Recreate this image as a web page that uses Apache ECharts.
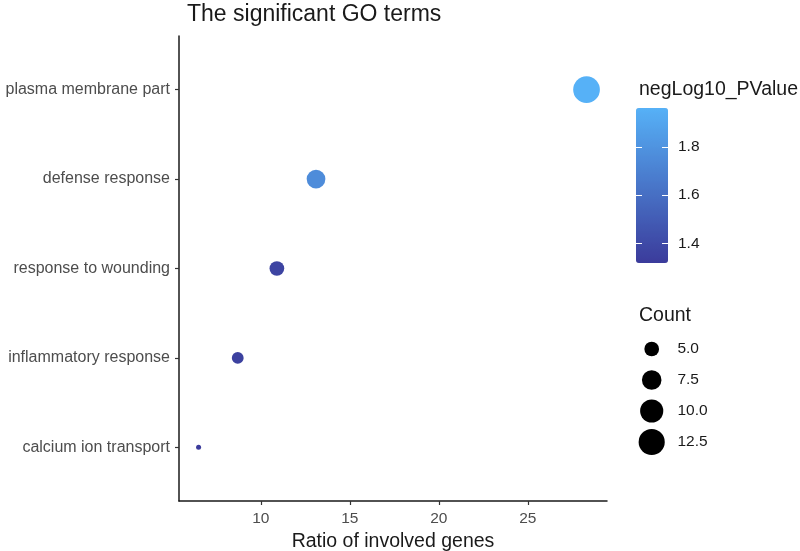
<!DOCTYPE html>
<html>
<head>
<meta charset="utf-8">
<script src="https://cdn.jsdelivr.net/npm/echarts@6/dist/echarts.min.js"></script>
<style>
html,body{margin:0;padding:0;background:#fff;}
#chart{width:800px;height:551px;}
</style>
</head>
<body>
<div id="chart"></div>
<script>
// ---- data (bottom to top) ----
var categories = ['calcium ion transport', 'inflammatory response', 'response to wounding', 'defense response', 'plasma membrane part'];
var ratio = [6.5, 8.7, 10.9, 13.1, 28.3];
var count = [3, 4, 5, 7, 13];
var negLog10 = [1.32, 1.35, 1.37, 1.76, 1.96];
var xTicks = [10, 15, 20, 25];
var colorTicks = [1.4, 1.6, 1.8];
var sizeBreaks = [5.0, 7.5, 10.0, 12.5];
var sizeLabels = ['5.0', '7.5', '10.0', '12.5'];

var FONT = '"Liberation Sans", Arial, Helvetica, sans-serif';
var countMin = 3, countMax = 13;
function sizeOf(c) {
  var t = Math.max(0, (c - countMin) / (countMax - countMin));
  return 5 + 21.7 * Math.sqrt(t);
}

var mainData = categories.map(function (c, i) {
  return [ratio[i], i + 1, count[i], negLog10[i]];
});
var legendData = sizeBreaks.map(function (b, i) {
  return [0.5, sizeLabels[i], b];
});

var chart = echarts.init(document.getElementById('chart'), null, {renderer: 'canvas'});
chart.setOption({
  backgroundColor: '#ffffff',
  animation: false,
  textStyle: {fontFamily: FONT},
  title: [
    {text: 'The significant GO terms', left: 182, top: -2,
     textStyle: {fontFamily: FONT, fontSize: 23, fontWeight: 'normal', color: '#1a1a1a'}},
    {text: 'negLog10_PValue', left: 634, top: 75,
     textStyle: {fontFamily: FONT, fontSize: 19.5, fontWeight: 'normal', color: '#1a1a1a'}},
    {text: 'Count', left: 634, top: 301,
     textStyle: {fontFamily: FONT, fontSize: 19.5, fontWeight: 'normal', color: '#1a1a1a'}}
  ],
  grid: [
    {left: 179, right: 193, top: 36, bottom: 50, containLabel: false, outerBoundsMode: 'none'},
    {left: 636, width: 31.4, top: 333.5, height: 124, outerBoundsMode: 'none'},
    {left: 636, width: 32, top: 108, height: 155, outerBoundsMode: 'none'}
  ],
  xAxis: [
    {type: 'value', gridIndex: 0, min: 5.4, max: 29.45,
     name: 'Ratio of involved genes', nameLocation: 'middle', nameGap: 26,
     nameTextStyle: {fontFamily: FONT, fontSize: 19.5, color: '#1a1a1a'},
     axisLine: {show: true, onZero: false, lineStyle: {color: '#1a1a1a', width: 1.5}},
     axisTick: {show: true, length: 4, customValues: xTicks, lineStyle: {color: '#333', width: 1.2}},
     axisLabel: {customValues: xTicks, margin: 10, fontFamily: FONT, fontSize: 15.5, color: '#4d4d4d'},
     splitLine: {show: false}},
    {type: 'value', gridIndex: 1, min: 0, max: 1, show: false},
    {type: 'value', gridIndex: 2, min: 0, max: 1, show: false}
  ],
  yAxis: [
    {type: 'value', gridIndex: 0, min: 0.4, max: 5.6,
     axisLine: {show: true, onZero: false, lineStyle: {color: '#1a1a1a', width: 1.5}},
     axisTick: {show: true, length: 4, customValues: [1, 2, 3, 4, 5], lineStyle: {color: '#333', width: 1.2}},
     axisLabel: {customValues: [1, 2, 3, 4, 5], margin: 9, fontFamily: FONT, fontSize: 16, color: '#4d4d4d',
       formatter: function (v) { return categories[Math.round(v) - 1] || ''; }},
     splitLine: {show: false}},
    {type: 'category', gridIndex: 1, data: sizeLabels, inverse: true, position: 'right',
     axisLine: {show: false}, axisTick: {show: false},
     axisLabel: {margin: 10, fontFamily: FONT, fontSize: 15.5, color: '#1a1a1a'}},
    {type: 'value', gridIndex: 2, min: 1.32, max: 1.96, position: 'right', z: 10,
     axisLine: {show: false},
     axisTick: {show: false},
     axisLabel: {customValues: colorTicks, margin: 10, fontFamily: FONT, fontSize: 15.5, color: '#1a1a1a',
       formatter: function (v) { return v.toFixed(1); }},
     splitLine: {show: false}},
    {type: 'value', gridIndex: 2, min: 1.32, max: 1.96, position: 'left', z: 10,
     axisLine: {show: false},
     axisTick: {show: true, inside: true, length: 6, customValues: colorTicks, lineStyle: {color: '#ffffff', width: 1}},
     axisLabel: {show: false},
     splitLine: {show: false}},
    {type: 'value', gridIndex: 2, min: 1.32, max: 1.96, position: 'left', offset: -32, z: 10,
     axisLine: {show: false},
     axisTick: {show: true, inside: false, length: 6, customValues: colorTicks, lineStyle: {color: '#ffffff', width: 1}},
     axisLabel: {show: false},
     splitLine: {show: false}}
  ],
  visualMap: [{
    type: 'continuous', seriesIndex: 0, dimension: 3,
    min: 1.32, max: 1.96, calculable: false, hoverLink: false,
    left: 636, top: 108, padding: 0, itemWidth: 32, itemHeight: 155,
    text: null, showLabel: false,
    inRange: {color: ['#3b3b9b', '#56b1f7']}
  }],
  series: [
    {type: 'scatter', xAxisIndex: 0, yAxisIndex: 0, data: mainData,
     symbolSize: function (d) { return sizeOf(d[2]); },
     itemStyle: {opacity: 1}, z: 5},
    {type: 'scatter', xAxisIndex: 1, yAxisIndex: 1, data: legendData,
     symbolSize: function (d) { return sizeOf(d[2]); },
     itemStyle: {color: '#000000', opacity: 1}}
  ]
});
</script>
</body>
</html>
